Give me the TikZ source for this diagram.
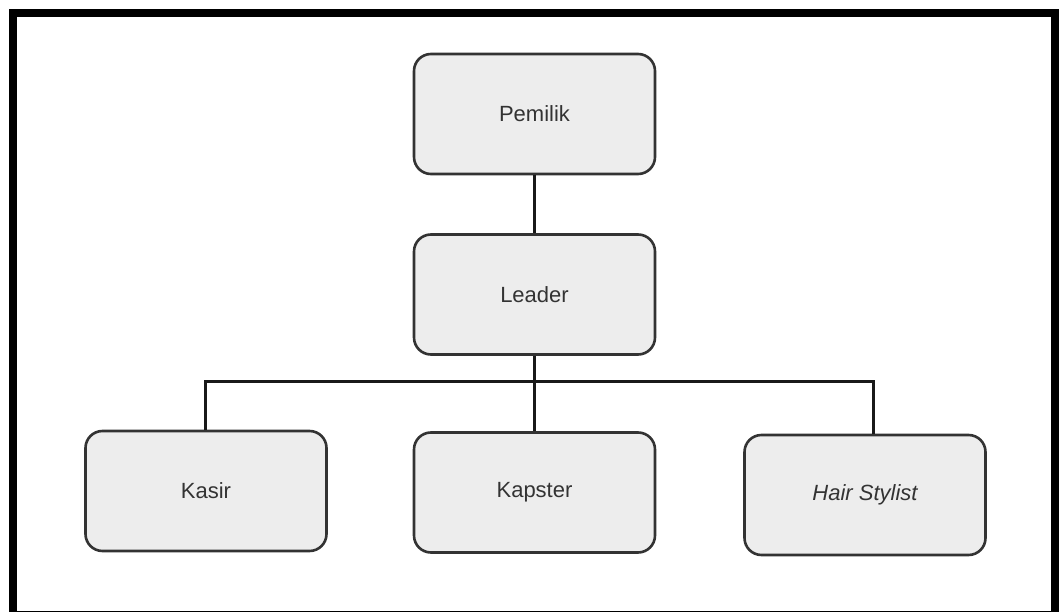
\documentclass[tikz,border=0pt]{standalone}
\usepackage{fontspec}
\setmainfont{Liberation Sans}
\begin{document}
\begin{tikzpicture}[x=1pt,y=-1pt,
  orgbox/.style={draw=black!80, line width=2.6pt, fill=black!7, rounded corners=17pt,
    minimum width=241pt, minimum height=120pt, inner sep=0pt, text=black!80,
    font=\fontsize{22}{26}\selectfont},
  link/.style={line width=3pt, black!90}]
  \useasboundingbox (0,0) rectangle (1059,612);
  \fill[white] (0,0) rectangle (1059,612);
  % outer frame
  \draw[line width=8pt, black] (13,13) rectangle (1055,615);

  \node[orgbox] (pemilik) at (534.5,114) {Pemilik};
  \node[orgbox] (leader)  at (534.5,294.5) {Leader};
  \node[orgbox] (kasir)   at (206,491) {Kasir};
  \node[orgbox] (kapster) at (534.5,492.5) {Kapster};
  \node[orgbox] (hair)    at (865,495) {\itshape Hair Stylist};

  \coordinate (bus) at (534.5,381);
  \draw[link] (pemilik.south) -- (leader.north);
  \draw[link] (leader.south) -- (kapster.north);
  \draw[link] (bus) -| ([xshift=-1pt]kasir.north);
  \draw[link] (bus) -| ([xshift=8pt]hair.north);
\end{tikzpicture}
\end{document}
